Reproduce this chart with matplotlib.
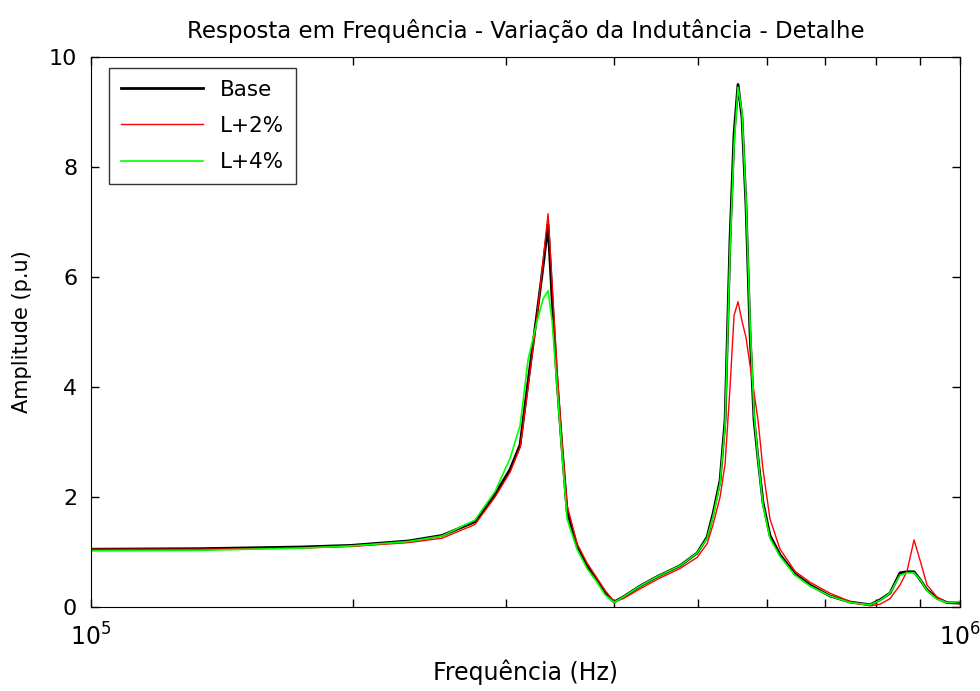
import matplotlib
matplotlib.use("Agg")
import matplotlib.pyplot as plt
from matplotlib.ticker import LogLocator, NullFormatter

# frequency grid (Hz)
freq = [1.000e5, 1.335e5, 1.740e5, 1.992e5, 2.317e5, 2.534e5, 2.766e5, 2.917e5,
        3.035e5, 3.117e5, 3.184e5, 3.261e5, 3.313e5, 3.357e5, 3.393e5, 3.438e5,
        3.483e5, 3.530e5, 3.625e5, 3.722e5, 3.823e5, 3.905e5, 3.999e5, 4.095e5,
        4.283e5, 4.480e5, 4.762e5, 4.982e5, 5.116e5, 5.198e5, 5.295e5, 5.366e5,
        5.437e5, 5.495e5, 5.553e5, 5.612e5, 5.672e5, 5.732e5, 5.794e5, 5.855e5,
        5.933e5, 6.044e5, 6.207e5, 6.458e5, 6.720e5, 7.085e5, 7.470e5, 7.877e5,
        8.089e5, 8.306e5, 8.530e5, 8.690e5, 8.853e5, 8.995e5, 9.163e5, 9.408e5,
        9.661e5, 1.000e6]

base = [1.05, 1.06, 1.09, 1.12, 1.20, 1.30, 1.55, 2.05,
        2.50, 2.95, 4.10, 5.35, 6.20, 6.95, 5.60, 4.10,
        2.90, 1.75, 1.10, 0.75, 0.48, 0.25, 0.09, 0.18,
        0.38, 0.55, 0.75, 0.98, 1.27, 1.70, 2.30, 3.40,
        6.70, 8.60, 9.50, 8.90, 7.30, 5.00, 3.40, 2.70,
        1.90, 1.30, 0.95, 0.60, 0.40, 0.20, 0.09, 0.04,
        0.13, 0.25, 0.62, 0.64, 0.64, 0.50, 0.31, 0.16,
        0.08, 0.07]

l2 = [1.05, 1.05, 1.07, 1.10, 1.17, 1.25, 1.50, 2.00,
      2.45, 2.90, 4.00, 5.30, 6.30, 7.15, 5.90, 4.30,
      3.00, 1.85, 1.15, 0.80, 0.52, 0.30, 0.10, 0.15,
      0.33, 0.50, 0.70, 0.90, 1.15, 1.50, 2.00, 2.60,
      4.00, 5.30, 5.55, 5.20, 4.90, 4.40, 3.90, 3.40,
      2.50, 1.60, 1.05, 0.65, 0.45, 0.25, 0.10, 0.02,
      0.05, 0.15, 0.40, 0.65, 1.22, 0.85, 0.40, 0.18,
      0.08, 0.06]

l4 = [1.02, 1.03, 1.07, 1.11, 1.19, 1.29, 1.58, 2.10,
      2.70, 3.30, 4.50, 5.20, 5.60, 5.75, 5.20, 4.00,
      2.80, 1.60, 1.05, 0.70, 0.45, 0.22, 0.08, 0.18,
      0.38, 0.55, 0.75, 0.98, 1.25, 1.65, 2.25, 3.30,
      6.50, 8.40, 9.45, 9.00, 7.40, 5.20, 3.50, 2.70,
      1.85, 1.25, 0.92, 0.58, 0.38, 0.20, 0.08, 0.04,
      0.12, 0.25, 0.58, 0.62, 0.62, 0.50, 0.30, 0.14,
      0.08, 0.10]

plt.rcParams['font.family'] = ['DejaVu Sans']
plt.rcParams['font.size'] = 15

fig = plt.figure(figsize=(9.8, 6.91), dpi=100)
ax = fig.add_axes([0.0929, 0.1216, 0.8867, 0.7959])

ax.plot(freq, base, color='black', lw=2.0, label='Base')
ax.plot(freq, l2, color='red', lw=1.0, label='L+2%')
ax.plot(freq, l4, color='#00ff00', lw=1.2, label='L+4%')

ax.set_xscale('log')
ax.set_xlim(1e5, 1e6)
ax.set_ylim(0, 10)
ax.set_yticks([0, 2, 4, 6, 8, 10])
ax.xaxis.set_major_locator(LogLocator(base=10, numticks=5))
ax.xaxis.set_minor_locator(LogLocator(base=10, subs=range(2, 10), numticks=12))
ax.xaxis.set_minor_formatter(NullFormatter())
ax.tick_params(which='both', direction='in', top=True, right=True, length=6, width=1)
ax.tick_params(axis='x', which='major', pad=12, labelsize=17)
ax.tick_params(axis='y', pad=10, labelsize=16)

ax.set_title('Resposta em Frequência - Variação da Indutância - Detalhe', fontsize=16.5, pad=14)
ax.set_xlabel('Frequência (Hz)', fontsize=17, labelpad=6)
ax.set_ylabel('Amplitude (p.u)', fontsize=15, labelpad=12)

leg = ax.legend(loc='upper left', fontsize=15.5, frameon=True, fancybox=False,
                edgecolor='black', handlelength=3.8, borderpad=0.55,
                labelspacing=0.75, borderaxespad=0, bbox_to_anchor=(0.021, 0.98))
leg.get_frame().set_linewidth(1.0)

fig.savefig('out.png', dpi=100)
